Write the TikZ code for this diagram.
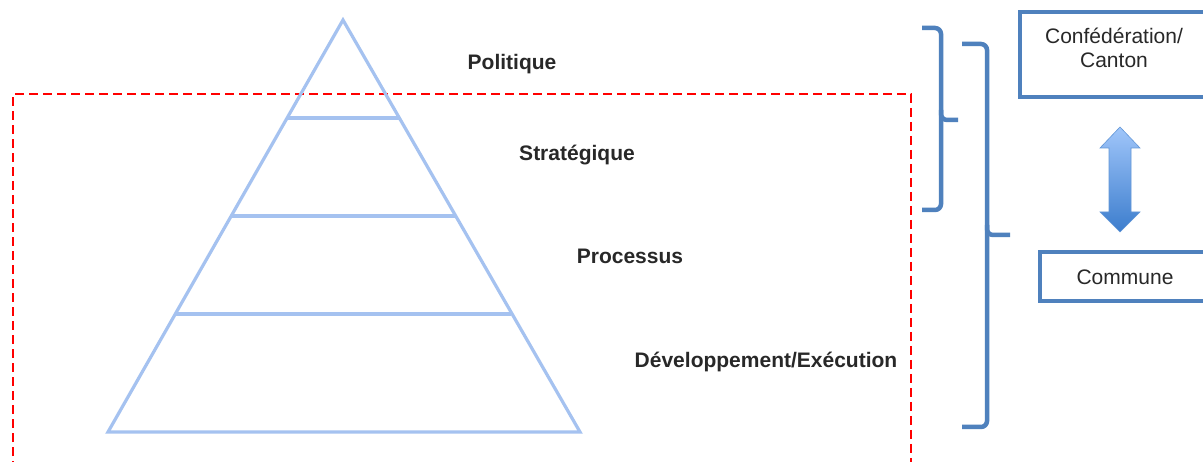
\documentclass[tikz,border=0pt]{standalone}
\usepackage{fontspec}
\setmainfont{Liberation Sans}
\begin{document}
\begin{tikzpicture}[x=1pt,y=-1pt,
  pyr/.style={draw=pyrblue,line width=3.2pt,line join=miter},
  brace/.style={draw=brblue,line width=4.5pt,rounded corners=6pt},
  levelbox/.style={draw=brblue,line width=4.5pt},
  lvl/.style={font=\fontsize{21}{24}\selectfont\bfseries,text=txt,inner sep=0pt},
  boxtxt/.style={font=\fontsize{21}{24.5}\selectfont,text=txt,inner sep=0pt,align=center}]
\definecolor{pyrblue}{RGB}{165,194,240}
\definecolor{brblue}{RGB}{79,129,189}
\definecolor{txt}{RGB}{40,40,40}
\definecolor{arrtop}{RGB}{160,198,250}
\definecolor{arrbot}{RGB}{60,125,205}
\useasboundingbox (0,0) rectangle (1203,462);
\clip (0,0) rectangle (1203,462);
\fill[white] (0,0) rectangle (1203,462);
% dashed frame
\draw[red,line width=1.6pt,dash pattern=on 9pt off 5pt] (13,470) -- (13,94) -- (911,94) -- (911,470);
% pyramid
\coordinate (apex) at (343,20);
\coordinate (bl) at (108,432);
\coordinate (br) at (580,432);
\draw[pyr] (apex) -- (bl) -- (br) -- cycle;
\draw[pyr] (287.1,118) -- (398.9,118);
\draw[pyr] (231.2,216) -- (454.8,216);
\draw[pyr] (175.4,314) -- (510.6,314);
% labels
\node[lvl] (pol) at (512,64) {Politique};
\node[lvl] (str) at (577,155) {Stratégique};
\node[lvl] (pro) at (630,256) {Processus};
\node[lvl] (dev) at (766,362) {Développement/Exécution};
% braces
\draw[brace] (922,28) -- (941,28) -- (941,120) -- (958,120);
\draw[brace] (941,110) -- (941,210) -- (922,210);
\draw[brace] (962,44) -- (987,44) -- (987,235) -- (1010,235);
\draw[brace] (987,225) -- (987,427) -- (962,427);
% boxes
\draw[levelbox] (1240,12) -- (1020,12) -- (1020,97) -- (1240,97);
\node[boxtxt] (conf) at (1114,48) {Confédération/\\Canton};
\draw[levelbox] (1240,252) -- (1040,252) -- (1040,301) -- (1240,301);
\node[boxtxt] (com) at (1125,277) {Commune};
% double arrow
\shade[top color=arrtop,bottom color=arrbot,draw=arrbot!80!white,line width=0.6pt]
  (1120,127) -- (1140,148) -- (1131,148) -- (1131,212) -- (1140,212) -- (1120,232)
  -- (1100,212) -- (1109,212) -- (1109,148) -- (1100,148) -- cycle;
\end{tikzpicture}
\end{document}
